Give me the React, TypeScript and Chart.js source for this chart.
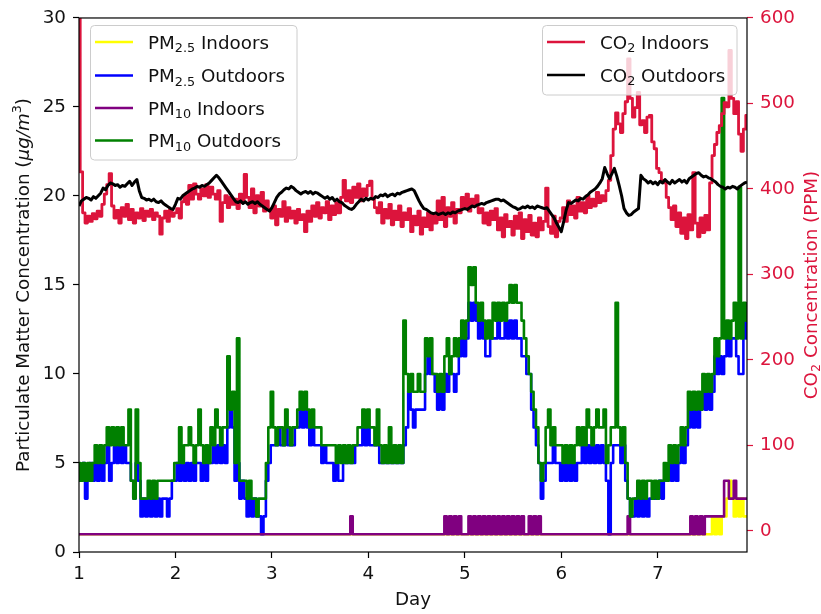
import React, { useEffect, useRef } from 'react';
import { Chart, registerables } from 'chart.js';

Chart.register(...registerables);

// ---- sampling grid (days) ----
const START_DAY = 1;
const STEP_DAYS = 0.025;
const X_MIN = 1;
const X_MAX = 7.925;

// ---- tick labels ----
const DAY_TICKS = [1, 2, 3, 4, 5, 6, 7];
const PM_TICKS = [0, 5, 10, 15, 20, 25, 30];
const CO2_TICKS = [0, 100, 200, 300, 400, 500, 600];
const PM_MIN = 0;
const PM_MAX = 30;
const CO2_MIN = -24.8;
const CO2_MAX = 600;

// ---- series (one value per sample) ----
const CO2_INDOORS = [
  700,420,372,360,368,362,371,365,374,368,
  382,394,405,418,380,366,375,360,378,368,
  382,364,376,360,372,366,377,363,374,368,
  376,364,372,368,347,366,374,362,376,368,
  372,377,366,385,392,382,404,388,406,394,
  388,400,392,405,390,402,394,388,398,362,
  384,392,378,390,382,388,377,394,384,417,
  390,378,400,372,392,380,396,374,386,376,
  366,380,358,376,368,385,362,378,366,374,
  360,376,364,370,350,374,362,380,368,384,
  366,378,372,385,364,380,370,384,372,390,
  410,386,398,384,402,390,406,386,400,392,
  404,409,388,378,372,384,360,376,366,382,
  358,374,364,380,356,372,364,377,350,368,
  358,374,347,366,356,372,352,370,360,386,
  364,390,356,378,368,384,360,376,372,390,
  378,394,374,388,380,392,372,377,360,372,
  358,374,364,377,352,366,344,370,356,362,
  346,368,354,372,342,364,350,369,346,360,
  344,366,352,362,401,356,348,368,344,362,
  366,378,362,386,370,380,366,390,374,384,
  372,392,378,388,380,396,384,392,386,398,
  410,439,470,489,476,466,488,502,552,506,
  484,495,513,475,480,466,484,486,455,447,
  424,419,410,407,390,378,364,380,356,372,
  348,366,342,370,352,419,360,344,366,349,
  369,352,407,439,452,466,474,488,501,496,
  562,506,488,502,464,444,470,486,
];

const CO2_OUTDOORS = [
  380,386,388,390,389,387,391,389,392,395,
  401,399,404,407,406,404,405,402,404,403,
  406,409,404,408,411,398,390,389,387,388,
  386,388,385,384,386,383,381,379,377,376,
  382,389,388,392,394,396,398,400,401,403,
  402,404,403,405,407,410,413,416,413,409,
  405,401,397,393,389,385,384,386,383,385,
  382,384,385,383,385,382,380,378,376,374,
  378,384,390,394,396,399,401,400,403,401,
  398,396,394,396,397,395,397,394,396,395,
  393,391,389,391,388,390,386,388,385,384,
  381,379,377,376,378,382,385,388,386,389,
  387,389,388,391,390,393,392,394,391,393,
  394,392,395,394,396,397,398,399,400,398,
  392,386,381,377,376,374,372,371,372,370,
  371,372,370,372,371,373,372,374,375,376,
  377,376,378,380,379,381,382,383,382,384,
  385,386,387,388,388,386,387,385,383,381,
  379,378,376,377,379,378,380,378,379,377,
  380,379,378,377,378,374,370,366,360,355,
  350,362,375,384,383,385,387,386,389,388,
  391,393,396,398,400,403,407,412,425,418,
  412,418,424,415,404,392,377,372,369,370,
  373,375,377,416,412,410,407,409,406,408,
  405,409,407,411,408,406,410,407,409,411,
  408,410,407,412,414,416,418,419,416,414,
  415,413,412,410,408,405,403,402,400,402,
  401,403,402,400,403,405,407,408,
];

const PM10_OUTDOORS = [
  5,4,5,4,5,4,5,6,5,6,
  5,6,7,6,7,6,7,6,7,6,
  6,8,4,3,8,5,3,3,3,4,
  3,4,3,4,4,4,4,4,4,4,
  5,5,7,5,6,6,7,6,5,6,
  8,6,5,6,5,7,6,8,7,6,
  7,7,11,8,9,5,12,4,4,4,
  3,4,3,3,2,3,3,3,5,7,
  9,7,6,7,7,6,8,7,6,7,
  7,8,9,8,9,8,7,8,7,7,
  7,6,6,6,6,6,6,5,6,5,
  6,5,6,5,6,6,7,7,8,7,
  8,7,7,6,8,6,5,6,5,7,
  5,6,5,6,5,13,10,9,10,9,
  9,10,9,9,12,11,12,10,10,9,
  10,9,11,12,10,11,12,11,12,13,
  12,13,16,15,16,14,13,14,13,12,
  13,12,14,13,14,13,14,13,14,15,
  14,15,14,14,13,12,11,10,9,8,
  7,5,4,5,7,8,6,7,6,6,
  6,5,6,5,6,5,6,7,6,7,
  6,8,7,6,7,8,7,7,8,5,
  6,7,7,14,7,6,7,5,3,2,
  3,3,4,3,4,3,4,4,3,4,
  3,4,4,5,4,6,5,6,5,6,
  7,6,7,9,8,9,8,9,8,10,
  9,10,9,10,12,11,12,25.5,12,13,
  12,13,14,12,20.5,12,14,13,
];

const PM25_OUTDOORS = [
  4,4,5,3,4,5,4,5,4,5,
  4,5,6,4,5,6,5,6,5,6,
  5,5,4,3,5,4,2,3,2,3,
  2,3,2,3,2,3,3,2,3,4,
  4,5,4,5,4,5,4,5,4,5,
  5,4,5,4,5,5,6,5,6,5,
  6,5,7,8,7,4,5,3,4,3,
  2,3,2,3,2,2,1,2,4,5,
  6,6,6,7,6,6,7,6,6,6,
  7,7,8,7,8,7,6,7,6,6,
  6,5,6,5,5,5,4,5,4,4,
  5,5,5,5,5,6,6,6,7,6,
  7,6,6,6,6,5,5,5,5,5,
  5,5,5,5,5,6,7,9,8,7,
  8,8,8,8,10,11,10,10,9,8,
  9,8,10,9,10,10,9,10,11,12,
  11,12,14,13,14,13,12,13,12,11,
  11,12,12,12,13,12,12,13,12,13,
  12,13,12,12,11,11,10,10,8,7,
  6,5,3,4,5,5,5,6,5,5,
  4,5,4,5,4,5,4,5,5,6,
  5,6,5,6,5,6,5,6,5,4,
  1,5,6,6,6,5,6,4,3,2,
  2,3,2,3,2,3,2,3,3,3,
  3,4,3,4,4,5,4,5,4,5,
  6,5,6,7,8,7,8,7,8,9,
  8,9,8,9,11,10,11,10,11,12,
  11,12,12,11,10,10,13,12,
];

const PM10_INDOORS = [
  1,1,1,1,1,1,1,1,1,1,1,1,1,1,1,1,1,1,1,1,
  1,1,1,1,1,1,1,1,1,1,1,1,1,1,1,1,1,1,1,1,
  1,1,1,1,1,1,1,1,1,1,1,1,1,1,1,1,1,1,1,1,
  1,1,1,1,1,1,1,1,1,1,1,1,1,1,1,1,1,1,1,1,
  1,1,1,1,1,1,1,1,1,1,1,1,1,1,1,1,1,1,1,1,
  1,1,1,1,1,1,1,1,1,1,1,1,1,2,1,1,1,1,1,1,
  1,1,1,1,1,1,1,1,1,1,1,1,1,1,1,1,1,1,1,1,
  1,1,1,1,1,1,1,1,1,1,1,1,2,1,2,1,2,1,2,1,
  1,1,2,1,2,1,2,1,2,1,2,1,2,1,2,1,2,1,2,1,
  2,1,2,1,2,1,1,2,1,2,1,2,1,1,1,1,1,1,1,1,
  1,1,1,1,1,1,1,1,1,1,1,1,1,1,1,1,1,1,1,1,
  1,1,1,1,1,1,1,1,2,1,1,1,1,1,1,1,1,1,1,1,
  1,1,1,1,1,1,1,1,1,1,1,1,1,1,2,1,2,1,2,1,
  2,2,2,2,2,2,2,2,4,4,3,3,4,3,3,3,3,3,
];

const PM25_INDOORS = [
  1,1,1,1,1,1,1,1,1,1,1,1,1,1,1,1,1,1,1,1,
  1,1,1,1,1,1,1,1,1,1,1,1,1,1,1,1,1,1,1,1,
  1,1,1,1,1,1,1,1,1,1,1,1,1,1,1,1,1,1,1,1,
  1,1,1,1,1,1,1,1,1,1,1,1,1,1,1,1,1,1,1,1,
  1,1,1,1,1,1,1,1,1,1,1,1,1,1,1,1,1,1,1,1,
  1,1,1,1,1,1,1,1,1,1,1,1,1,1,1,1,1,1,1,1,
  1,1,1,1,1,1,1,1,1,1,1,1,1,1,1,1,1,1,1,1,
  1,1,1,1,1,1,1,1,1,1,1,1,1,1,1,1,1,1,1,1,
  1,1,1,1,1,1,1,1,1,1,1,1,1,1,1,1,1,1,1,1,
  1,1,1,1,1,1,1,1,1,1,1,1,1,1,1,1,1,1,1,1,
  1,1,1,1,1,1,1,1,1,1,1,1,1,1,1,1,1,1,1,1,
  1,1,1,1,1,1,1,1,1,1,1,1,1,1,1,1,1,1,1,1,
  1,1,1,1,1,1,1,1,1,1,1,1,1,1,1,1,1,1,1,1,
  1,1,1,2,1,2,1,2,2,3,4,3,2,3,2,3,2,2,
];

// ---- legend entries: [base, subscript, rest] ----
const PM_LEGEND = [
  { base: 'PM', sub: '2.5', rest: ' Indoors', color: '#FFFF00' },
  { base: 'PM', sub: '2.5', rest: ' Outdoors', color: '#0000FF' },
  { base: 'PM', sub: '10', rest: ' Indoors', color: '#800080' },
  { base: 'PM', sub: '10', rest: ' Outdoors', color: '#008000' },
];
const CO2_LEGEND = [
  { base: 'CO', sub: '2', rest: ' Indoors', color: '#DC143C' },
  { base: 'CO', sub: '2', rest: ' Outdoors', color: '#000000' },
];

const FAMILY = '"DejaVu Sans"';
const FS = 18.3;
const MAIN = `${FS}px ${FAMILY}`;
const SMALL = `12.8px ${FAMILY}`;
const ITALIC = `italic ${FS}px ${FAMILY}`;
const CRIMSON = '#DC143C';

type Seg = { text: string; font: string; dy: number };

function drawSegs(ctx: CanvasRenderingContext2D, segs: Seg[], x: number, y: number, center: boolean) {
  let total = 0;
  for (const s of segs) {
    ctx.font = s.font;
    total += ctx.measureText(s.text).width;
  }
  let cx = center ? x - total / 2 : x;
  ctx.textAlign = 'left';
  ctx.textBaseline = 'alphabetic';
  for (const s of segs) {
    ctx.font = s.font;
    ctx.fillText(s.text, cx, y + s.dy);
    cx += ctx.measureText(s.text).width;
  }
}

function legendSegs(e: { base: string; sub: string; rest: string }): Seg[] {
  return [
    { text: e.base, font: MAIN, dy: 0 },
    { text: e.sub, font: SMALL, dy: 3.8 },
    { text: e.rest, font: MAIN, dy: 0 },
  ];
}

function drawLegend(
  ctx: CanvasRenderingContext2D,
  entries: { base: string; sub: string; rest: string; color: string }[],
  box: { x: number; y: number; w: number; h: number },
  rows: number[],
  hx0: number,
  hx1: number,
  tx: number
) {
  ctx.save();
  ctx.beginPath();
  (ctx as any).roundRect(box.x, box.y, box.w, box.h, 4);
  ctx.fillStyle = 'rgba(255,255,255,0.8)';
  ctx.fill();
  ctx.strokeStyle = '#cccccc';
  ctx.lineWidth = 1;
  ctx.stroke();
  entries.forEach((e, i) => {
    const y = rows[i];
    ctx.strokeStyle = e.color;
    ctx.lineWidth = 2.6;
    ctx.beginPath();
    ctx.moveTo(hx0, y);
    ctx.lineTo(hx1, y);
    ctx.stroke();
    ctx.fillStyle = '#111';
    drawSegs(ctx, legendSegs(e), tx, y + 6.5, false);
  });
  ctx.restore();
}

const overlayPlugin = {
  id: 'overlay',
  afterDraw(chart: any) {
    const ctx: CanvasRenderingContext2D = chart.ctx;
    const a = chart.chartArea;
    ctx.save();
    // axes frame
    ctx.strokeStyle = '#000';
    ctx.lineWidth = 1.2;
    ctx.strokeRect(a.left, a.top, a.right - a.left, a.bottom - a.top);

    // legends
    drawLegend(ctx, PM_LEGEND, { x: 90.5, y: 25.5, w: 206.5, h: 134.5 }, [42, 75.5, 108, 140.5], 95, 133, 148);
    drawLegend(ctx, CO2_LEGEND, { x: 542.5, y: 25.5, w: 194.5, h: 69.5 }, [42, 75], 547, 585, 600);

    // left axis title
    const cy = (a.top + a.bottom) / 2;
    ctx.save();
    ctx.translate(22, cy);
    ctx.rotate(-Math.PI / 2);
    ctx.fillStyle = '#111';
    drawSegs(
      ctx,
      [
        { text: 'Particulate Matter Concentration (', font: MAIN, dy: 0 },
        { text: 'μg/m', font: ITALIC, dy: 0 },
        { text: '3', font: SMALL, dy: -7.5 },
        { text: ')', font: MAIN, dy: 0 },
      ],
      0,
      6.5,
      true
    );
    ctx.restore();

    // right axis title
    ctx.save();
    ctx.translate(810, cy);
    ctx.rotate(-Math.PI / 2);
    ctx.fillStyle = CRIMSON;
    drawSegs(
      ctx,
      [
        { text: 'CO', font: MAIN, dy: 0 },
        { text: '2', font: SMALL, dy: 3.8 },
        { text: ' Concentration (PPM)', font: MAIN, dy: 0 },
      ],
      0,
      6.5,
      true
    );
    ctx.restore();

    // x axis title
    ctx.fillStyle = '#111';
    drawSegs(ctx, [{ text: 'Day', font: MAIN, dy: 0 }], (a.left + a.right) / 2, 605, true);
    ctx.restore();
  },
};

export default function App() {
  const ref = useRef<HTMLCanvasElement | null>(null);

  useEffect(() => {
    if (!ref.current) return;
    const days = CO2_INDOORS.map((_, i) => START_DAY + i * STEP_DAYS);
    const mk = (label: string, values: number[], color: string, yAxisID: string, order: number, stepped: any, width: number) => ({
      label,
      data: values.map((v, i) => ({ x: days[i], y: v })),
      borderColor: color,
      backgroundColor: color,
      borderWidth: width,
      borderJoinStyle: 'round' as const,
      pointRadius: 0,
      tension: 0,
      stepped,
      fill: false,
      yAxisID,
      order,
      clip: 0,
    });

    const tickFont = { family: 'DejaVu Sans', size: FS };

    const chart = new Chart(ref.current, {
      type: 'line',
      data: {
        datasets: [
          mk('PM2.5 Indoors', PM25_INDOORS, '#FFFF00', 'y', 5, 'middle', 2.6),
          mk('PM2.5 Outdoors', PM25_OUTDOORS, '#0000FF', 'y', 4, 'middle', 2.6),
          mk('PM10 Indoors', PM10_INDOORS, '#800080', 'y', 3, 'middle', 2.6),
          mk('PM10 Outdoors', PM10_OUTDOORS, '#008000', 'y', 2, 'middle', 2.6),
          mk('CO2 Indoors', CO2_INDOORS, CRIMSON, 'y2', 1, 'middle', 2.8),
          mk('CO2 Outdoors', CO2_OUTDOORS, '#000000', 'y2', 0, false, 3),
        ],
      },
      options: {
        animation: false,
        responsive: false,
        maintainAspectRatio: false,
        devicePixelRatio: 1,
        events: [],
        layout: { padding: { top: 16, left: 0, right: 0, bottom: 0 } },
        plugins: { legend: { display: false }, tooltip: { enabled: false } },
        scales: {
          x: {
            type: 'linear',
            position: 'bottom',
            min: X_MIN,
            max: X_MAX,
            afterBuildTicks: (s: any) => {
              s.ticks = DAY_TICKS.map((v) => ({ value: v }));
            },
            afterFit: (s: any) => {
              s.height = 62;
            },
            ticks: {
              font: tickFont,
              color: '#111',
              padding: 5,
              maxRotation: 0,
              autoSkip: false,
              callback: (v: any) => String(v),
            },
            grid: { display: true, drawOnChartArea: false, drawTicks: true, tickLength: 6, tickWidth: 1.2, tickColor: '#000' },
            border: { display: false },
          },
          y: {
            type: 'linear',
            position: 'left',
            min: PM_MIN,
            max: PM_MAX,
            afterBuildTicks: (s: any) => {
              s.ticks = PM_TICKS.map((v) => ({ value: v }));
            },
            afterFit: (s: any) => {
              s.width = 79;
            },
            ticks: { font: tickFont, color: '#111', padding: 7, callback: (v: any) => String(v) },
            grid: { display: true, drawOnChartArea: false, drawTicks: true, tickLength: 6, tickWidth: 1.2, tickColor: '#000' },
            border: { display: false },
          },
          y2: {
            type: 'linear',
            position: 'right',
            min: CO2_MIN,
            max: CO2_MAX,
            afterBuildTicks: (s: any) => {
              s.ticks = CO2_TICKS.map((v) => ({ value: v }));
            },
            afterFit: (s: any) => {
              s.width = 74;
            },
            ticks: { font: tickFont, color: CRIMSON, padding: 7, callback: (v: any) => String(v) },
            grid: { display: true, drawOnChartArea: false, drawTicks: true, tickLength: 6, tickWidth: 1.2, tickColor: CRIMSON },
            border: { display: false },
          },
        },
      },
      plugins: [overlayPlugin],
    } as any);

    return () => chart.destroy();
  }, []);

  return (
    <div style={{ position: 'absolute', left: 0, top: 0, width: 821, height: 614, background: '#fff' }}>
      <canvas ref={ref} width={821} height={614} style={{ display: 'block' }} />
    </div>
  );
}
